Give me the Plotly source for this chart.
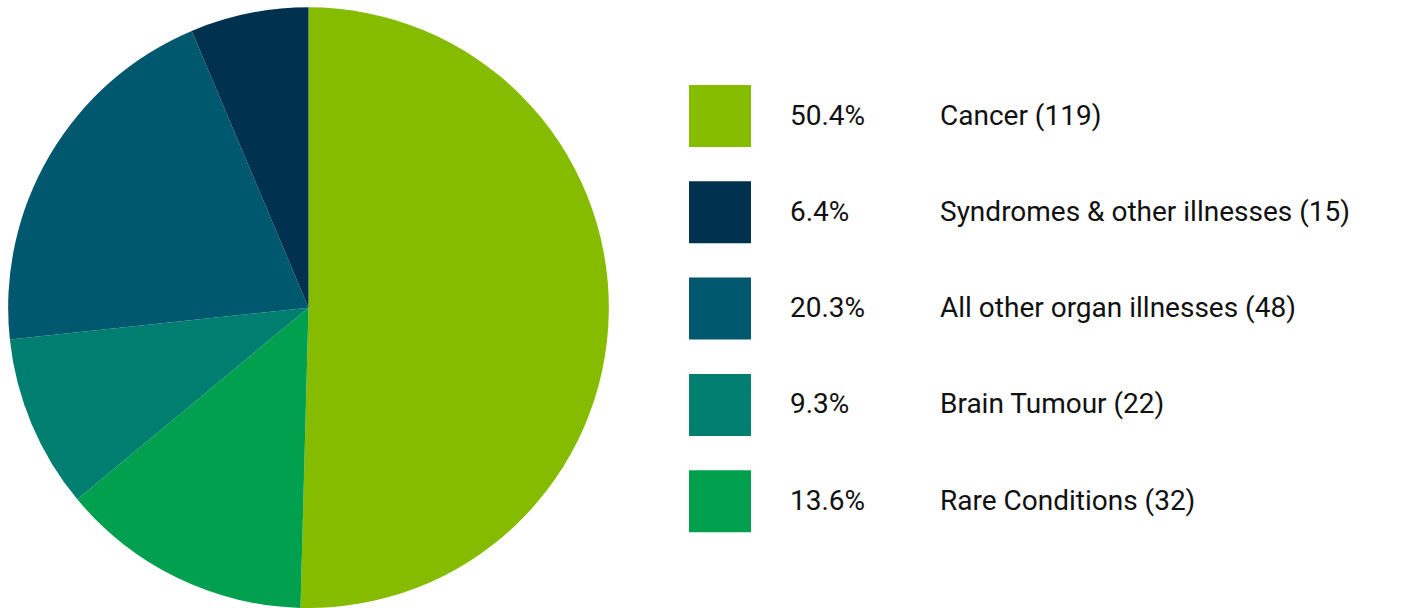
import plotly.graph_objects as go

# Data (pie order, clockwise from 12 o'clock)
pie_labels = ["Cancer", "Rare Conditions", "Brain Tumour", "All other organ illnesses", "Syndromes & other illnesses"]
pie_values = [119, 32, 22, 48, 15]
pie_colors = ["#86BC00", "#00A04E", "#007E70", "#00586E", "#003250"]

# Legend order
legend_order = ["Cancer", "Syndromes & other illnesses", "All other organ illnesses", "Brain Tumour", "Rare Conditions"]

W, H = 1410, 608
total = sum(pie_values)

fig = go.Figure()
fig.add_trace(go.Pie(
    labels=pie_labels,
    values=pie_values,
    sort=False,
    direction="clockwise",
    rotation=0,
    marker=dict(colors=pie_colors, line=dict(width=0)),
    textinfo="none",
    hoverinfo="label+value+percent",
    showlegend=False,
    domain=dict(x=[0, 617 / W], y=[0, 0.988]),
))

def px_x(x):
    return x / W

def px_y(y):
    return 1 - y / H

font_family = "Roboto, 'Noto Sans', sans-serif"
for i, name in enumerate(legend_order):
    idx = pie_labels.index(name)
    val = pie_values[idx]
    pct = val / total * 100
    top = 85 + i * 96.3
    fig.add_shape(type="rect", xref="paper", yref="paper",
                  x0=px_x(689), x1=px_x(751), y0=px_y(top + 62), y1=px_y(top),
                  fillcolor=pie_colors[idx], line=dict(width=0))
    cy = top + 30
    fig.add_annotation(xref="paper", yref="paper", x=px_x(788), y=px_y(cy),
                       text=f"{pct:.1f}%", showarrow=False, xanchor="left", yanchor="middle",
                       font=dict(family=font_family, size=28, color="#111111"))
    fig.add_annotation(xref="paper", yref="paper", x=px_x(938), y=px_y(cy),
                       text=f"{name} ({val})", showarrow=False, xanchor="left", yanchor="middle",
                       font=dict(family=font_family, size=28, color="#111111"))

fig.update_layout(
    width=W, height=H,
    margin=dict(l=0, r=0, t=0, b=0),
    paper_bgcolor="white",
    plot_bgcolor="white",
)

fig.write_html("out.html", post_script="document.body.style.margin='0';",
               config={"displayModeBar": False})
